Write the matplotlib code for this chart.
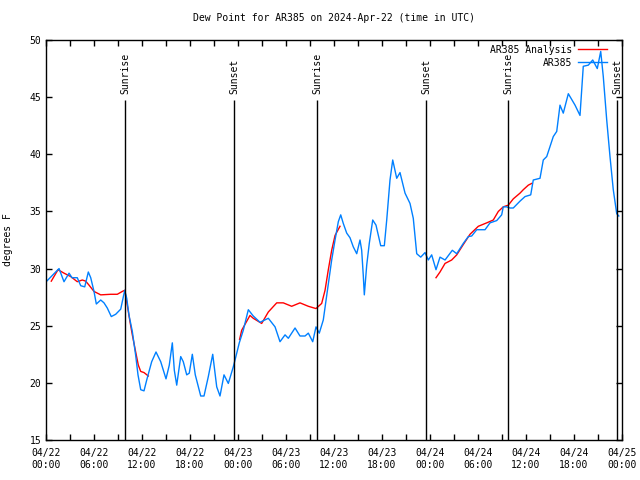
"""
Dew point for AR385, observed vs analysis, with sunrise/sunset marks
"""

import matplotlib
matplotlib.use('Agg')

import numpy as np
import pandas as pd
import matplotlib.pyplot as plt
import matplotlib.dates as mdates

nan = np.nan

# observed dew point (hours after 2024-04-22 00:00 UTC, degrees F)
obs_hours = [0.09, 1.63, 2.25, 2.88, 3.25, 3.91, 4.34, 4.84, 5.29, 5.59, 6.0, 6.29,
             6.84, 7.25, 7.66, 8.16, 8.71, 9.34, 9.63, 9.84, 10.09, 10.38, 10.79,
             11.21, 11.5, 11.84, 12.25, 12.59, 13.21, 13.75, 14.34, 15.0, 15.41,
             15.79, 16.04, 16.34, 16.84, 17.16, 17.59, 17.91, 18.29, 18.66, 19.34,
             19.75, 20.29, 20.84, 21.34, 21.75, 22.25, 22.79, 23.41, 23.63, 24.16,
             24.66, 25.29, 25.91, 26.75, 27.79, 28.63, 29.25, 29.88, 30.29, 31.13,
             31.75, 32.38, 32.79, 33.34, 33.75, 34.16, 34.66, 35.06, 35.71, 36.13,
             36.54, 36.84, 37.16, 37.59, 38.0, 38.41, 38.84, 39.25, 39.46, 39.66,
             39.79, 40.09, 40.41, 40.84, 41.25, 41.84, 42.29, 42.59, 43.0, 43.34,
             43.84, 44.25, 44.88, 45.5, 45.91, 46.34, 46.84, 47.38, 47.79, 48.21,
             48.75, 49.25, 49.88, 50.79, 51.34, 52.16, 52.79, 53.21, 53.84, 54.88,
             55.5, 56.34, 56.96, 57.16, 57.59, 58.0, 58.41, 59.25, 59.88, 60.59,
             60.91, 61.75, 62.16, 62.59, 63.41, 63.84, 64.25, 64.66, 65.29, 66.13,
             66.75, 67.16, 67.79, 68.34, 68.91, 69.34, 69.66, 70.09, 70.5, 70.91,
             71.34, 71.6]
obs_dewp = [28.9, 30.0, 28.85, 29.6, 29.2, 29.2, 28.5, 28.4, 29.7, 29.2, 28.0, 26.9,
            27.25, 27.0, 26.55, 25.8, 26.0, 26.45, 27.4, 28.1, 27.4, 25.9, 24.5,
            22.4, 20.7, 19.4, 19.3, 20.25, 21.85, 22.7, 21.85, 20.35, 21.55,
            23.5, 21.1, 19.8, 22.3, 21.85, 20.7, 20.85, 22.5, 20.7, 18.85,
            18.85, 20.55, 22.5, 19.65, 18.85, 20.7, 19.95, 21.4, 22.0, 23.5,
            24.6, 26.4, 25.85, 25.3, 25.65, 24.9, 23.6, 24.2, 23.9, 24.8,
            24.1, 24.1, 24.35, 23.6, 24.9, 24.35, 25.5, 27.5, 30.75, 32.5,
            34.1, 34.7, 33.95, 33.1, 32.7, 31.9, 31.3, 32.5, 31.6, 29.4,
            27.7, 30.3, 32.2, 34.25, 33.8, 32.0, 32.0, 34.25, 37.75, 39.5,
            37.9, 38.4, 36.6, 35.7, 34.4, 31.3, 31.0, 31.4, 30.75, 31.2,
            29.9, 31.0, 30.75, 31.6, 31.3, 32.2, 32.8, 32.85, 33.4, 33.4,
            34.0, 34.2, 34.7, 35.4, 35.4, 35.3, 35.3, 35.9, 36.3, 36.45,
            37.75, 37.9, 39.5, 39.8, 41.55, 42.0, 44.3, 43.6, 45.3, 44.3,
            43.4, 47.7, 47.8, 48.25, 47.5, 49.0, 46.8, 43.0, 39.8, 36.9,
            34.8, 34.6]

# analysis dew point, nan marks gaps between runs
ana_hours = [0.66, 1.5, 2.25, 3.09, 3.91, 4.54, 4.96, 5.38, 6.0, 6.84, 8.09, 8.91,
             9.54, 9.84, 10.16, 10.5, 10.79, 11.21, 11.54, 11.84, 12.25, 12.79,
             18.0,
             24.2, 24.46, 25.5, 25.91, 26.96, 27.79, 28.84, 29.66, 30.71, 31.75,
             32.79, 33.75, 34.46, 34.88, 35.29, 35.71, 36.13, 36.75,
             42.0,
             48.75, 49.25, 49.88, 50.71, 51.34, 52.16, 53.0, 54.04, 55.09, 55.91,
             56.54, 57.16, 57.79, 58.41, 59.25, 59.66, 60.29, 60.71]
ana_dewp = [28.9, 29.9, 29.6, 29.3, 28.85, 29.0, 28.9, 28.55, 28.0, 27.7, 27.75, 27.75,
            28.0, 28.1, 26.8, 25.35, 24.2, 22.7, 21.55, 21.0, 20.9, 20.6,
            nan,
            23.8, 24.6, 25.9, 25.65, 25.2, 26.2, 27.0, 27.0, 26.7, 27.0,
            26.7, 26.5, 26.95, 28.1, 29.9, 31.6, 32.9, 33.7,
            nan,
            29.2, 29.7, 30.45, 30.75, 31.2, 32.1, 33.0, 33.7, 34.0, 34.25,
            35.0, 35.4, 35.55, 36.1, 36.6, 36.9, 37.3, 37.45]

sunrise_hours = [9.92, 33.9, 57.8]
sunset_hours = [23.55, 47.5, 71.4]

base = pd.Timestamp('2024-04-22 00:00')


def to_time(hours):
    return base + pd.to_timedelta(hours, unit='h')


plt.rcParams['font.family'] = 'DejaVu Sans Mono'
plt.rcParams['font.size'] = 7

fig = plt.figure(figsize=(6.4, 4.8), dpi=100)
ax = fig.add_axes([46 / 640, 40 / 480, 576 / 640, 400 / 480])

ax.plot(to_time(ana_hours), ana_dewp, color='#ff0000', lw=1, label='AR385 Analysis')
ax.plot(to_time(obs_hours), obs_dewp, color='#0080ff', lw=1, label='AR385')

# sunrise / sunset markers
for h in sunrise_hours:
    t = to_time(h)
    ax.vlines(t, 15, 44.75, color='black', lw=1)
    ax.text(t, 45.3, 'Sunrise', rotation=90, ha='center', va='bottom')
for h in sunset_hours:
    t = to_time(h)
    ax.vlines(t, 15, 44.75, color='black', lw=1)
    ax.text(t, 45.3, 'Sunset', rotation=90, ha='center', va='bottom')

ax.set_xlim(base, to_time(72))
ax.set_ylim(15, 50)
ax.set_yticks(np.arange(15, 51, 5))
ax.xaxis.set_major_locator(mdates.HourLocator(byhour=[0, 6, 12, 18]))
ax.xaxis.set_minor_locator(mdates.HourLocator(byhour=[3, 9, 15, 21]))
ax.xaxis.set_major_formatter(mdates.DateFormatter('%m/%d\n%H:%M'))
ax.tick_params(which='both', direction='in', top=True, right=True, length=4, width=1)
ax.tick_params(axis='x', pad=6)

for s in ax.spines.values():
    s.set_linewidth(1)

ax.set_ylabel('degrees F', labelpad=12)
ax.set_title('Dew Point for AR385 on 2024-Apr-22 (time in UTC)', fontsize=7, pad=14)
ax.legend(loc='upper right', bbox_to_anchor=(1 - 10 / 576, 1), frameon=False,
          markerfirst=False, handlelength=3.0, borderaxespad=0.1,
          labelspacing=0.3, handletextpad=0.6)

fig.savefig('out.png', dpi=100)
